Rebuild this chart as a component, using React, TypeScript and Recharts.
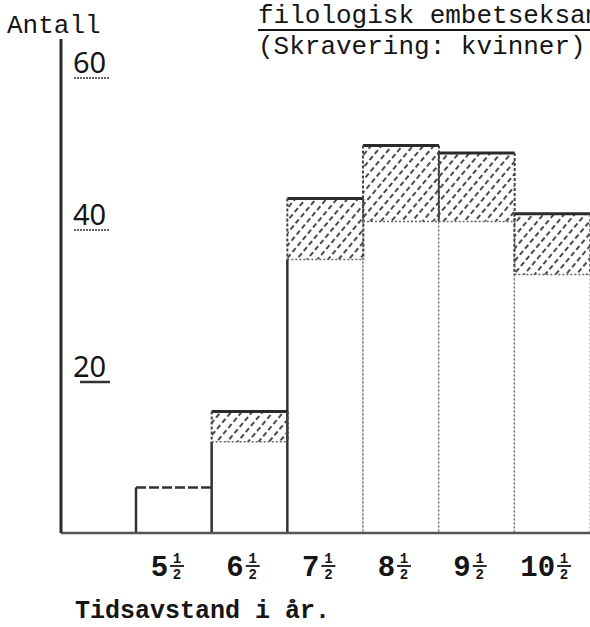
import { Bar, BarChart, XAxis, YAxis } from "recharts";

const categories = ["5½", "6½", "7½", "8½", "9½", "10½"];
const men = [6, 12, 36, 41, 41, 34];
const women = [0, 4, 8, 10, 9, 8];
const yTicks = [20, 40, 60];

const data = categories.map((c, i) => ({ name: c, men: men[i], women: women[i] }));

const mono = "'Liberation Mono', 'DejaVu Sans Mono', monospace";
const ink = "#151515";

const MenShape = (props: any) => {
    const { x, y, width, height, index } = props;
    const solidLeft = index < 3;
    return (
        <g>
            <rect x={x} y={y} width={width} height={height} fill="#fff" />
            <line x1={x} y1={y} x2={x} y2={y + height} stroke={solidLeft ? "#333" : "#777"}
                strokeWidth={solidLeft ? 2.5 : 1.5} strokeDasharray={solidLeft ? undefined : "2 2"} />
            <line x1={x + width} y1={y} x2={x + width} y2={y + height} stroke="#777" strokeWidth={1.5} strokeDasharray="2 2" />
            {women[index] === 0 && (
                <line x1={x} y1={y} x2={x + width} y2={y} stroke="#333" strokeWidth={2.5} strokeDasharray="10 3" />
            )}
        </g>
    );
};

const WomenShape = (props: any) => {
    const { x, y, width, height } = props;
    if (!height) return null;
    return (
        <g>
            <rect x={x} y={y} width={width} height={height} fill="url(#hatch)" />
            <line x1={x} y1={y} x2={x + width} y2={y} stroke="#2a2a2a" strokeWidth={3} />
            <line x1={x} y1={y + height} x2={x + width} y2={y + height} stroke="#666" strokeWidth={1.5} strokeDasharray="2 2" />
            <line x1={x} y1={y} x2={x} y2={y + height} stroke="#444" strokeWidth={2} strokeDasharray="3 2" />
            <line x1={x + width} y1={y} x2={x + width} y2={y + height} stroke="#444" strokeWidth={2} strokeDasharray="3 2" />
        </g>
    );
};

const YTick = (props: any) => {
    const { y, payload } = props;
    const x = 62;
    const bold = payload.value === 20;
    return (
        <g>
            <text x={x + 11} y={y - 4} fontFamily="'Noto Sans', sans-serif" fontSize={29} fill={ink}>
                {payload.value}
            </text>
            <line x1={x + (bold ? 18 : 12)} y1={y + 1} x2={x + 48} y2={y + 1} stroke="#333" strokeWidth={bold ? 2.5 : 1.5}
                strokeDasharray={bold ? undefined : "2 1"} />
        </g>
    );
};

// whole number plus a stacked ½ like the typewriter fraction
const XTick = (props: any) => {
    const { x, y, payload } = props;
    const whole = String(payload.value).replace("½", "");
    const wWidth = whole.length * 17.4;
    const total = wWidth + 17;
    const left = x - 6 - total / 2;
    const base = y + 35;
    const fx = left + wWidth + 9;
    return (
        <g fill={ink} fontFamily={mono} fontWeight="bold">
            <text x={left} y={base} fontSize={29}>{whole}</text>
            <text x={fx} y={base - 13} fontSize={14} textAnchor="middle">1</text>
            <line x1={fx - 7} y1={base - 10} x2={fx + 7} y2={base - 10} stroke={ink} strokeWidth={1.8} />
            <text x={fx} y={base + 3} fontSize={14} textAnchor="middle">2</text>
        </g>
    );
};

const App = () => {
    return (
        <div style={{ position: "absolute", left: 0, top: 0, width: 590, height: 627, overflow: "hidden", background: "#fff" }}>
            <div style={{ position: "absolute", left: 7, top: 11, fontFamily: mono, fontSize: 26, color: ink }}>Antall</div>
            <div style={{ position: "absolute", left: 258, top: 1, fontFamily: mono, fontSize: 26, color: ink, whiteSpace: "nowrap", textDecoration: "underline", textDecorationThickness: 2, textUnderlineOffset: 6 }}>
                filologisk embetseksamen
            </div>
            <div style={{ position: "absolute", left: 258, top: 32, fontFamily: mono, fontSize: 26, color: ink, whiteSpace: "nowrap" }}>
                (Skravering: kvinner)
            </div>
            <div style={{ position: "absolute", left: 75, top: 597, fontFamily: mono, fontSize: 25, fontWeight: "bold", color: ink, whiteSpace: "nowrap" }}>
                Tidsavstand i år.
            </div>
            <BarChart width={590} height={627} data={data} barCategoryGap={0}
                margin={{ top: 39, right: 0, bottom: 34, left: 61 }}>
                <defs>
                    <pattern id="hatch" width={8} height={8} patternUnits="userSpaceOnUse" patternTransform="rotate(40)">
                        <line x1={2} y1={0} x2={2} y2={8} stroke="#4a4a4a" strokeWidth={2} strokeDasharray="5 3" />
                    </pattern>
                </defs>
                <XAxis dataKey="name" height={60} padding={{ left: 75, right: 0 }} tickLine={false}
                    axisLine={{ stroke: "#555", strokeWidth: 2.5 }} tick={<XTick />} interval={0} />
                <YAxis width={1} mirror domain={[0, 65]} ticks={yTicks} tickLine={false}
                    axisLine={{ stroke: "#2a2a2a", strokeWidth: 3 }} tick={<YTick />} />
                <Bar dataKey="men" stackId="a" isAnimationActive={false} shape={<MenShape />} />
                <Bar dataKey="women" stackId="a" isAnimationActive={false} shape={<WomenShape />} />
            </BarChart>
        </div>
    );
};

export default App;
